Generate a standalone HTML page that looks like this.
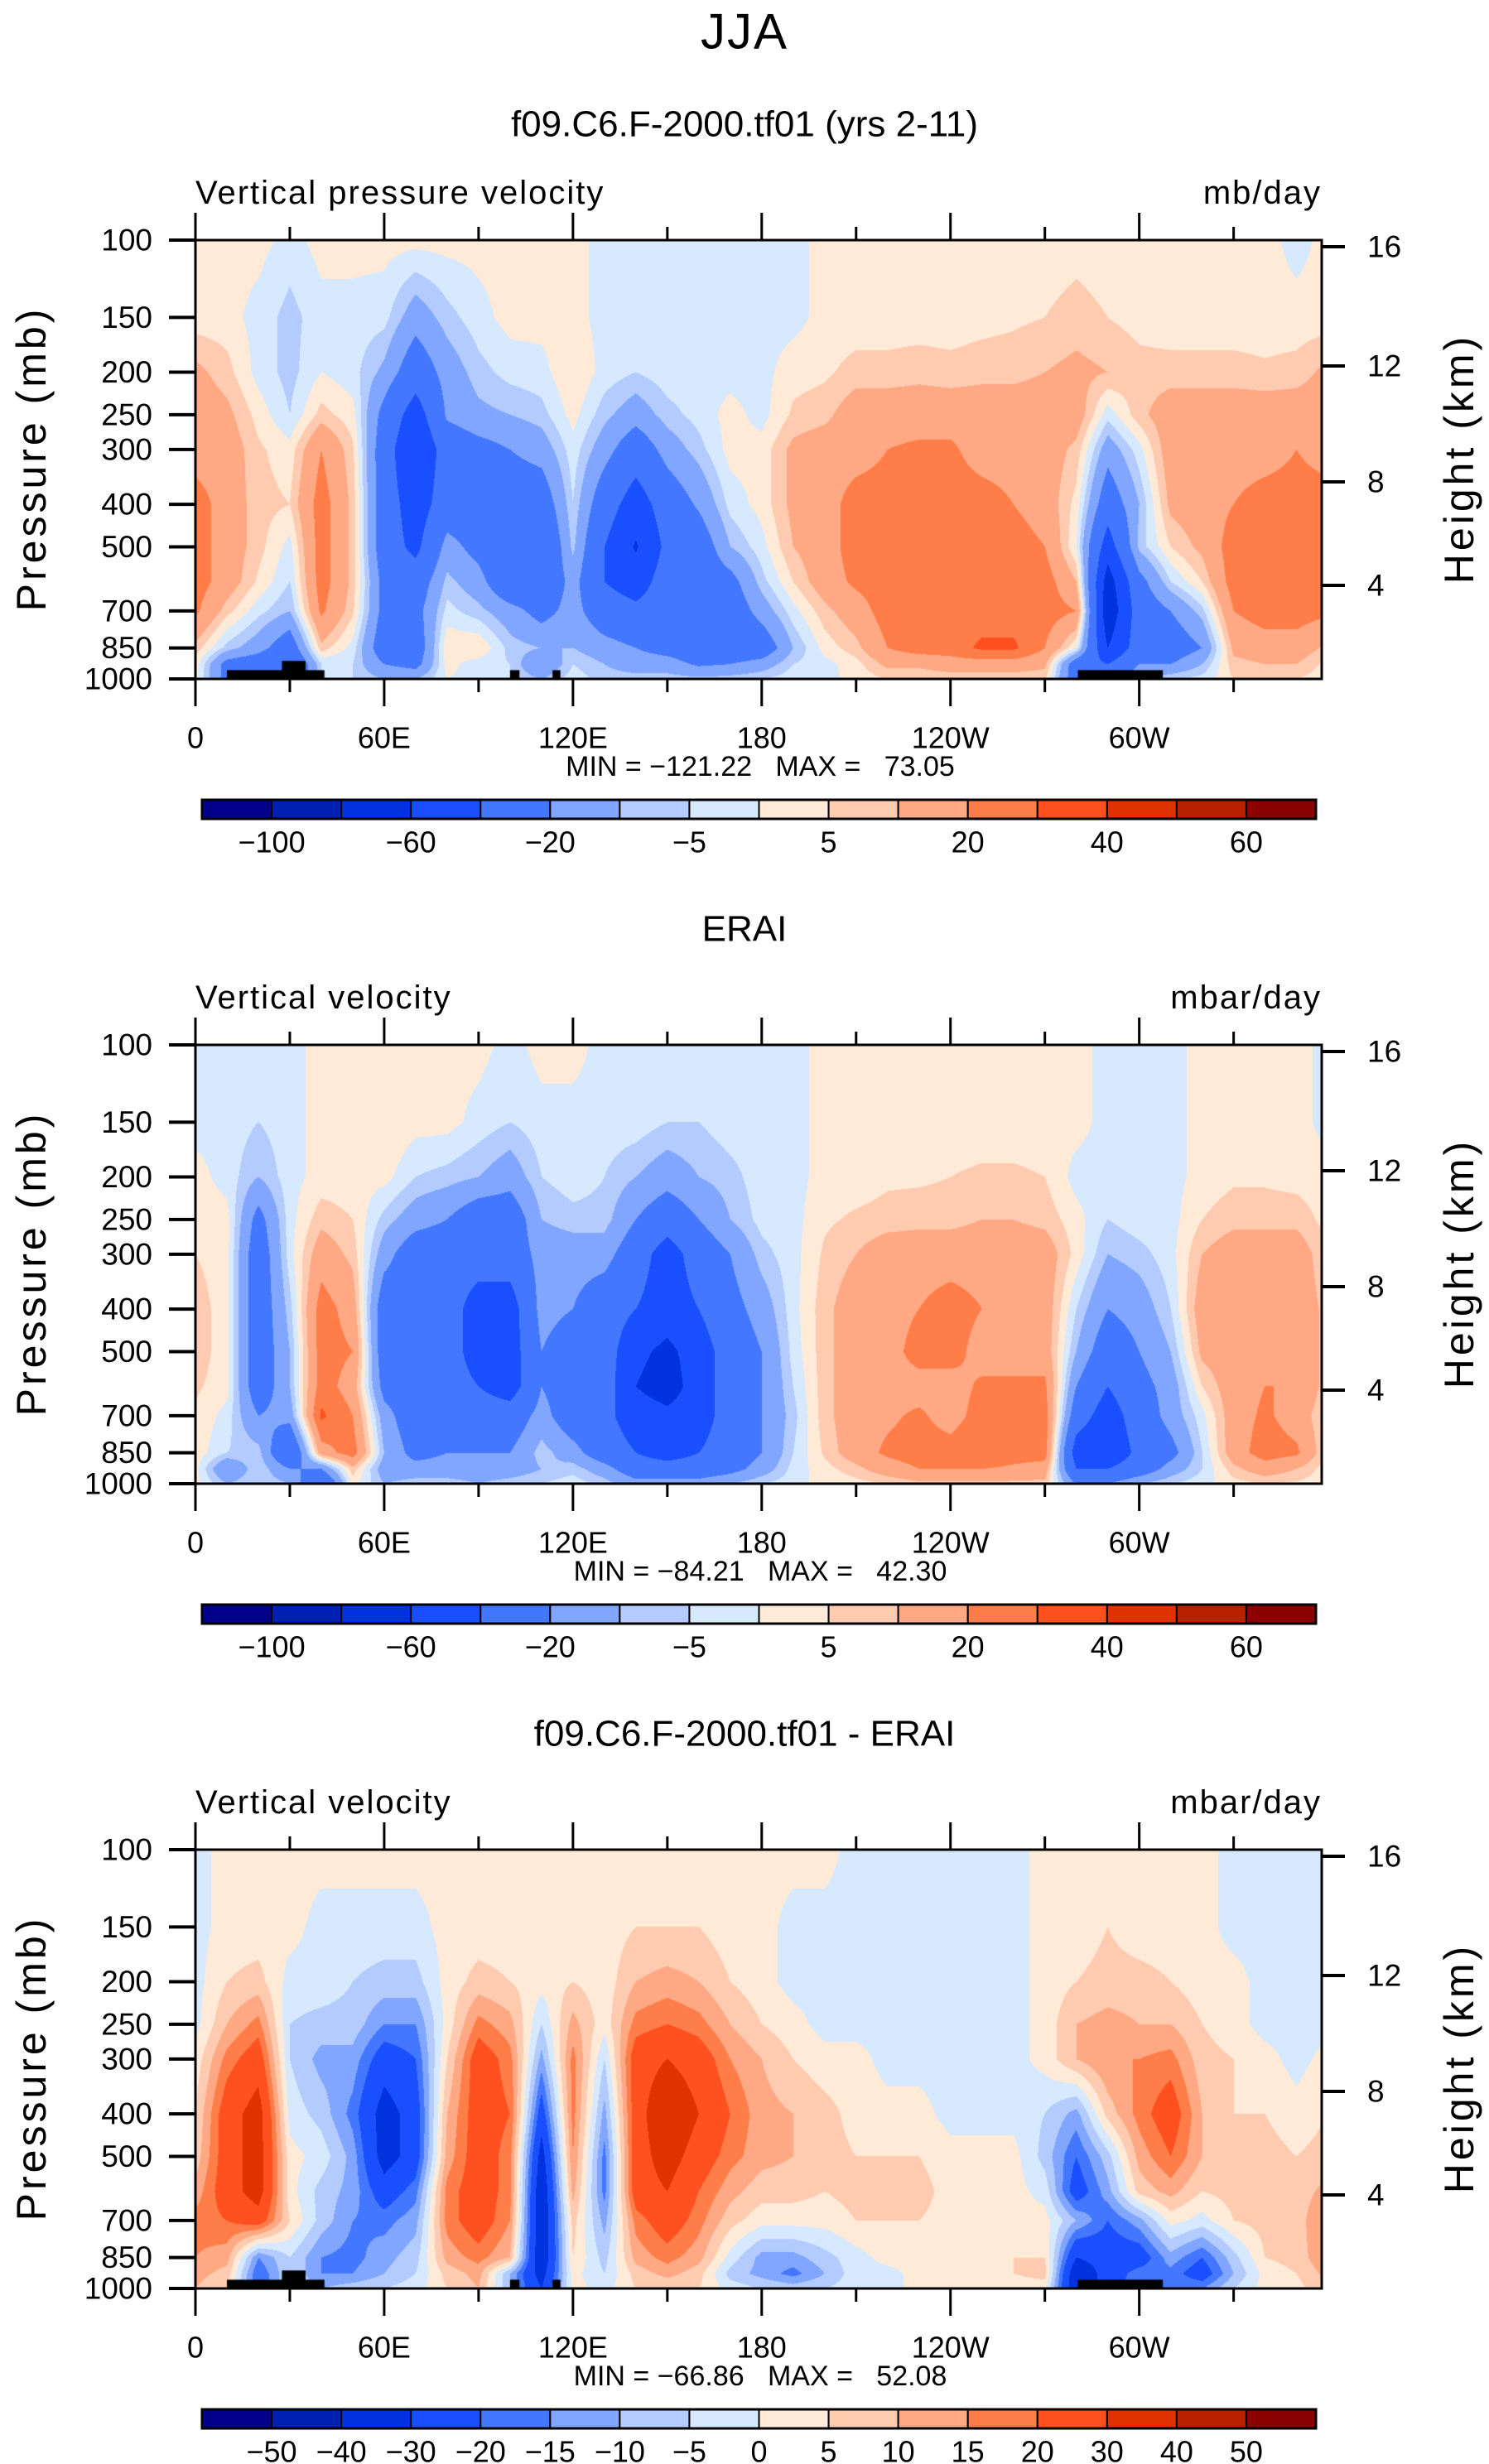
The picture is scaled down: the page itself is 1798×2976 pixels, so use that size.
<!DOCTYPE html>
<html><head><meta charset="utf-8">
<style>
html,body{margin:0;padding:0;background:#fff;}
body{width:1798px;height:2976px;position:relative;overflow:hidden;font-family:"Liberation Sans",sans-serif;}
canvas{position:absolute;}
svg{position:absolute;left:0;top:0;}
</style></head>
<body>
<svg id="svg" width="1798" height="2976" xmlns="http://www.w3.org/2000/svg"></svg>
<script>
// ---------------- data ----------------
const lons = [0,10,20,30,40,50,60,70,80,90,100,110,120,130,140,150,160,170,180,190,200,210,220,230,240,250,260,270,280,290,300,310,320,330,340,350];
const pressures = [100,150,200,250,300,400,500,600,700,850,925,1000];
const pressureTicks = [100,150,200,250,300,400,500,700,850,1000];
const heightTicks = [16,12,8,4];
const heightTickOffsets = [8,152,292,417];
const lonTickLabels = ["0","60E","120E","180","120W","60W"];
const lonTickValues = [0,60,120,180,240,300];
const levelsAbs = [-100,-80,-60,-40,-20,-10,-5,0,5,10,20,30,40,50,60];
const labelsAbs = ["\u2212100","","\u221260","","\u221220","","\u22125","","5","","20","","40","","60"];
const levelsDiff = [-50,-40,-30,-20,-15,-10,-5,0,5,10,15,20,30,40,50];
const labelsDiff = ["\u221250","\u221240","\u221230","\u221220","\u221215","\u221210","\u22125","0","5","10","15","20","30","40","50"];
const colors = ["#00008c","#0020b4","#0033dd","#1a4fff","#4477ff","#80a6ff","#b3cbff","#d6e9ff","#ffead8","#ffcbb0","#ffa884","#ff7d48","#ff5020","#e03200","#b82000","#8b0000"];

// model field (columns by lon, rows by pressure)
const field1 = [
[2,2,12,15,15,25,25,25,22,8,3,2],
[2,2,7,12,15,15,15,15,7,-7,-25,-25],
[2,-2,-2,3,6,7,7,4,-3,-15,-30,-30],
[-2,-7,-7,-5,2,5,-2,-5,-10,-30,-40,-40],
[2,-2,0,7,20,25,25,25,22,8,-5,-5],
[2,-2,-3,2,6,8,8,8,6,-2,-5,-5],
[2,-3,-12,-25,-30,-30,-30,-25,-25,-30,-20,-10],
[2,-15,-30,-50,-60,-50,-45,-30,-25,-30,-25,-10],
[2,-7,-15,-18,-30,-30,-15,-8,-3,4,2,0],
[2,-2,-7,-12,-25,-30,-25,-15,-8,5,-3,-2],
[2,2,-3,-10,-20,-30,-40,-35,-15,-7,-5,-5],
[2,2,-2,-7,-15,-30,-40,-35,-25,-10,-20,-10],
[2,2,5,2,-2,-5,-8,-15,-15,-10,-5,-2],
[-2,-2,-2,-8,-15,-30,-40,-40,-30,-15,-10,-7],
[-2,-2,-5,-15,-30,-50,-62,-50,-35,-20,-15,-7],
[-2,-2,-2,-7,-15,-30,-35,-30,-30,-25,-15,-7],
[-2,-2,-2,-3,-7,-18,-30,-30,-30,-30,-22,-8],
[-2,-2,-2,2,2,-3,-10,-25,-30,-32,-20,-7],
[-2,-2,-2,-2,2,2,-2,-7,-15,-30,-15,-5],
[-2,-2,3,6,12,12,10,5,-2,-10,-5,-2],
[2,2,4,8,15,15,15,15,8,2,-2,-2],
[2,2,7,15,15,25,25,22,15,8,3,2],
[2,2,7,15,20,25,25,25,25,20,12,5],
[2,2,8,15,22,25,25,25,25,25,12,5],
[2,2,7,15,22,25,25,25,25,25,15,6],
[2,3,8,15,15,25,25,25,25,32,15,6],
[2,4,8,15,15,20,25,25,25,32,15,6],
[2,5,10,15,15,15,20,25,25,20,12,6],
[3,7,12,15,8,3,0,10,20,0,-30,-30],
[2,5,10,-3,-15,-30,-50,-70,-75,-60,-40,-30],
[2,3,7,8,-2,-10,-8,-25,-30,-30,-20,-10],
[2,2,7,15,15,12,5,-5,-20,-30,-20,-5],
[2,2,7,15,15,15,12,5,-7,-20,-10,-3],
[2,2,7,15,15,20,25,25,20,12,8,5],
[2,2,6,15,15,25,25,25,25,15,10,5],
[-2,2,7,15,20,25,25,25,25,15,10,5]
];
// ERAI field
const field2 = [
[-2,-2,2,3,5,8,8,6,4,3,2,2],
[-2,-2,-2,2,2,2,2,2,-2,-5,-20,-10],
[-2,-5,-10,-25,-30,-30,-30,-30,-20,-7,-5,-5],
[-2,-2,-2,-2,-2,-7,-10,-10,-15,-40,-20,-10],
[2,2,2,8,15,25,25,25,32,15,-20,-40],
[2,2,2,5,8,15,20,15,20,25,8,2],
[2,5,2,-7,-15,-30,-30,-25,-15,-10,-15,-10],
[2,2,-5,-15,-30,-30,-30,-30,-30,-25,-15,-7],
[2,2,-7,-20,-30,-30,-30,-30,-30,-20,-15,-7],
[2,-2,-10,-30,-30,-50,-50,-40,-30,-20,-15,-10],
[-2,-5,-15,-30,-30,-50,-50,-50,-30,-20,-15,-7],
[2,-2,-5,-10,-15,-15,-20,-20,-15,-7,-10,-5],
[2,-2,-2,-7,-15,-20,-30,-30,-30,-15,-7,-2],
[-2,-2,-5,-7,-15,-30,-30,-30,-35,-30,-15,-7],
[-2,-2,-10,-20,-30,-40,-55,-60,-50,-40,-30,-15],
[-2,-5,-15,-30,-50,-50,-65,-70,-55,-50,-30,-15],
[-2,-5,-10,-20,-30,-40,-50,-50,-50,-40,-30,-15],
[-2,-2,-7,-10,-20,-25,-30,-30,-30,-30,-25,-10],
[-2,-2,-2,-3,-7,-15,-20,-20,-20,-20,-15,-5],
[-2,-2,-2,-2,-2,-2,-3,-5,-7,-5,-3,-2],
[2,2,2,4,6,8,8,8,8,6,3,2],
[2,2,2,6,10,15,15,15,15,15,8,3],
[2,2,4,7,15,15,15,15,18,22,15,5],
[2,2,4,8,15,20,25,15,22,25,20,8],
[2,2,5,8,15,25,25,15,15,25,20,8],
[2,2,6,10,15,20,15,22,25,30,20,8],
[2,2,6,10,15,15,15,22,25,25,18,8],
[2,2,5,8,15,15,15,22,25,25,15,8],
[2,2,-2,2,3,-5,-10,-20,-30,-50,-40,-20],
[-2,-2,-2,-5,-10,-20,-30,-40,-50,-55,-40,-20],
[-2,-2,-2,-2,-7,-15,-20,-25,-30,-35,-30,-10],
[-2,-2,-2,-2,-2,-5,-10,-15,-15,-25,-15,-5],
[2,2,2,5,10,15,12,5,-2,-5,-5,-2],
[2,2,4,8,15,15,15,15,15,15,8,3],
[2,2,4,8,15,15,15,20,22,25,15,5],
[2,2,3,8,15,15,15,20,15,22,10,4]
];
// difference field
const field3 = [
[-2,-2,-2,-2,2,5,7,12,17,15,12,10],
[2,2,5,10,17,25,25,25,20,12,8,5],
[2,2,7,17,25,35,35,35,25,-15,-20,-20],
[2,2,-2,-5,-5,-2,2,2,5,-5,-5,-5],
[2,-2,-2,-7,-12,-7,-2,-7,-7,-15,-15,-10],
[2,-2,-5,-7,-12,-17,-12,-12,-15,-17,-15,-7],
[2,-2,-7,-15,-25,-35,-35,-25,-17,-12,-10,-5],
[2,-2,-7,-15,-20,-25,-25,-17,-12,-7,-5,-2],
[2,2,2,2,5,10,12,17,17,12,7,5],
[2,2,7,17,25,25,25,25,25,17,12,10],
[2,2,5,12,17,20,17,17,15,10,-10,-10],
[2,2,2,-5,-12,-25,-35,-40,-40,-40,-35,-30],
[2,2,5,12,17,17,15,12,7,5,2,2],
[2,2,2,2,-5,-12,-17,-17,-12,-7,-5,-2],
[2,5,10,17,25,25,25,25,17,12,7,5],
[2,5,12,20,30,40,35,30,25,17,12,5],
[2,5,10,17,25,30,25,20,17,12,7,5],
[2,2,5,10,15,20,17,12,7,-2,-7,-2],
[2,2,2,5,10,12,12,7,2,-12,-12,-5],
[2,-2,-2,2,5,10,10,7,2,-12,-17,-7],
[2,-2,-2,-2,2,7,7,5,2,-7,-10,-5],
[-2,-2,-2,-2,2,3,5,7,5,-2,-2,-2],
[-2,-2,-2,-2,-2,2,5,7,5,2,-2,-2],
[-2,-2,-2,-2,-2,2,5,7,5,3,2,2],
[-2,-2,-2,-2,-2,-2,2,3,3,2,2,2],
[-2,-2,-2,-2,-2,-2,2,2,2,2,2,2],
[-2,-2,-2,-2,-2,-2,2,2,2,5,5,2],
[2,2,2,2,2,-5,-7,-2,2,5,7,2],
[2,2,5,10,10,-12,-20,-25,-10,-30,-40,-40],
[2,5,7,12,15,7,-7,-12,-20,-25,-25,-25],
[2,2,7,10,15,17,12,7,-12,-25,-17,-15],
[2,2,5,10,17,25,20,12,2,-12,-17,-15],
[2,2,2,5,7,10,10,5,-2,-20,-25,-15],
[-2,-2,2,2,5,5,7,7,5,-7,-10,-5],
[-2,-2,-2,-2,2,5,7,7,7,5,2,2],
[-2,-2,-2,-2,-2,2,5,7,7,7,5,3]
];
// topography blocks: [lonStart, lonEnd, pressureTop]
const topoLonStart = [10,27.5,100,113.5,280.5];
const topoLonEnd = [41,35,103,116,307.5];
const topoPTop = [955,910,955,955,955];

const panels = [
 {title:"f09.C6.F-2000.tf01 (yrs 2-11)", sub:"Vertical pressure velocity", units:"mb/day", field:field1, levels:levelsAbs, labels:labelsAbs, min:"\u2212121.22", max:"73.05", topo:true},
 {title:"ERAI", sub:"Vertical velocity", units:"mbar/day", field:field2, levels:levelsAbs, labels:labelsAbs, min:"\u221284.21", max:"42.30", topo:false},
 {title:"f09.C6.F-2000.tf01 - ERAI", sub:"Vertical velocity", units:"mbar/day", field:field3, levels:levelsDiff, labels:labelsDiff, min:"\u221266.86", max:"52.08", topo:true}
];

// ---------------- geometry ----------------
const PX0 = 236, PW = 1360, PH = 530, LONMAX = 358, TOP0 = 290, DY = 972;
const xOf = lon => PX0 + lon / LONMAX * PW;
const yOf = (p, top) => top + (Math.log10(p) - 2) * PH;

const svg = document.getElementById('svg');
const NS = "http://www.w3.org/2000/svg";
function mk(tag, attrs, parent){const e=document.createElementNS(NS,tag);for(const k in attrs)e.setAttribute(k,attrs[k]);(parent||svg).appendChild(e);return e;}
function txt(s, x, y, size, anchor, extra, name){
  const t = mk('text',Object.assign({x:x,y:y,'font-size':size,'text-anchor':anchor||'middle','dominant-baseline':'central','font-family':'Liberation Sans, sans-serif',fill:'#000'},extra||{}));
  t.textContent = s;
  
  
  return t;
}

const logP = pressures.map(p=>Math.log10(p));
function sample(field, lon, lp){
  let fi = lon/10; let i0 = Math.floor(fi); const fx = fi-i0;
  const n = field.length; const a = field[((i0%n)+n)%n], b = field[(((i0+1)%n)+n)%n];
  let j=0; while(j<logP.length-2 && lp>logP[j+1]) j++;
  let fy = (lp-logP[j])/(logP[j+1]-logP[j]); fy=Math.max(0,Math.min(1,fy));
  const va = a[j]*(1-fy)+a[j+1]*fy, vb = b[j]*(1-fy)+b[j+1]*fy;
  return va*(1-fx)+vb*fx;
}
function hexRGB(h){return [parseInt(h.substr(1,2),16),parseInt(h.substr(3,2),16),parseInt(h.substr(5,2),16)];}
const rgb = colors.map(hexRGB);

txt("JJA", 899, 38, 60, 'middle', {'letter-spacing':'2'}, 'figure-title');

panels.forEach((P, k) => {
  const top = TOP0 + DY*k;
  const cv = document.createElement('canvas');
  cv.width = PW; cv.height = PH;
  cv.style.left = PX0+'px'; cv.style.top = top+'px';
  
  
  document.body.insertBefore(cv, svg);
  const ctx = cv.getContext('2d');
  const img = ctx.createImageData(PW, PH);
  for(let y=0;y<PH;y++){
    const lp = 2 + (y+0.5)/PH;
    for(let x=0;x<PW;x++){
      const lon = (x+0.5)/PW*LONMAX;
      const v = sample(P.field, lon, lp);
      let c=0; while(c<P.levels.length && v>=P.levels[c]) c++;
      const col = rgb[c]; const o=(y*PW+x)*4;
      img.data[o]=col[0];img.data[o+1]=col[1];img.data[o+2]=col[2];img.data[o+3]=255;
    }
  }
  ctx.putImageData(img,0,0);
  if(P.topo){
    ctx.fillStyle='#000';
    for(let i=0;i<topoLonStart.length;i++){
      const x0 = topoLonStart[i]/LONMAX*PW, x1 = topoLonEnd[i]/LONMAX*PW;
      const y0 = (Math.log10(topoPTop[i])-2)*PH;
      ctx.fillRect(x0,y0,x1-x0,PH-y0);
    }
  }
  txt(P.title, 899, top-140, 44, 'middle', {}, 'panel-title-'+(k+1));
  txt(P.sub, PX0, top-57, 40, 'start', {'letter-spacing':'2'}, 'variable-label-'+(k+1));
  txt(P.units, PX0+PW, top-57, 40, 'end', {'letter-spacing':'2'}, 'units-label-'+(k+1));
  const fr = mk('rect',{x:PX0,y:top,width:PW,height:PH,fill:'none',stroke:'#000','stroke-width':3});
  
  
  for(let lon=0; lon<=LONMAX; lon+=30){
    const major = lon%60===0; const L = major?33:16; const x=xOf(lon);
    const t1 = mk('line',{x1:x,x2:x,y1:top,y2:top-L,stroke:'#000','stroke-width':3});
    
    
    const t2 = mk('line',{x1:x,x2:x,y1:top+PH,y2:top+PH+L,stroke:'#000','stroke-width':3});
    
    
  }
  lonTickValues.forEach((lon,i)=>{ txt(lonTickLabels[i], xOf(lon), top+601, 36, 'middle', {}, 'x-tick-label'); });
  pressureTicks.forEach(p=>{
    const y=yOf(p,top);
    const t = mk('line',{x1:PX0-32,x2:PX0,y1:y,y2:y,stroke:'#000','stroke-width':4});
    
    
    txt(String(p), PX0-52, y, 37, 'end', {}, 'y-tick-label');
  });
  heightTicks.forEach((h,i)=>{
    const y = top+heightTickOffsets[i];
    const t = mk('line',{x1:PX0+PW,x2:PX0+PW+28,y1:y,y2:y,stroke:'#000','stroke-width':4});
    
    
    txt(String(h), 1651, y, 37, 'start', {}, 'height-tick-label');
  });
  txt("Pressure (mb)", 38, top+264, 50, 'middle', {transform:'rotate(-90 38 '+(top+264)+')','letter-spacing':'4'}, 'y-axis-title');
  txt("Height (km)", 1762, top+264, 50, 'middle', {transform:'rotate(-90 1762 '+(top+264)+')','letter-spacing':'4'}, 'right-axis-title');
  txt("MIN = "+P.min+"   MAX =   "+P.max, 918, top+636, 34, 'middle', {style:'white-space:pre'}, 'min-max-label');
  const cbx=244, cbw=1345, cby=top+676, cbh=23, bw=cbw/colors.length;
  colors.forEach((c,i)=>{
    const r = mk('rect',{x:cbx+i*bw,y:cby,width:bw,height:cbh,fill:c,stroke:'#000','stroke-width':2});
    
    
  });
  const ob = mk('rect',{x:cbx,y:cby,width:cbw,height:cbh,fill:'none',stroke:'#000','stroke-width':3});
  
  
  P.labels.forEach((l,i)=>{ if(l) txt(l, cbx+(i+1)*bw, top+727, 36, 'middle', {}, 'colorbar-label'); });
});
</script>
</body></html>
